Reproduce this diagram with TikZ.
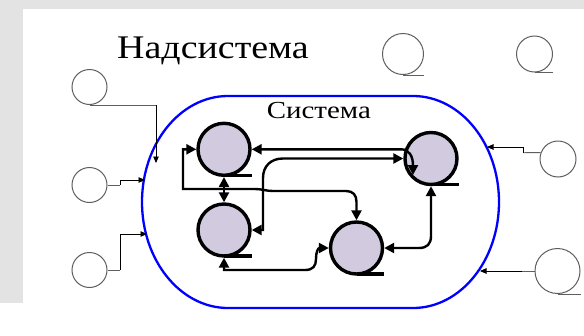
\documentclass[tikz,border=0pt]{standalone}
\usepackage{fontspec}
\usepackage{graphicx}
\setmainfont{Liberation Serif}
\usetikzlibrary{arrows.meta}
\definecolor{bggray}{RGB}{227,227,227}
\definecolor{lav}{RGB}{210,202,222}
\definecolor{outgray}{RGB}{95,95,95}
\begin{document}
\begin{tikzpicture}[x=1pt,y=-1pt,
  incirc/.style={circle,draw=black,line width=3.4pt,fill=lav,minimum size=52pt,inner sep=0pt},
  outcirc/.style={circle,draw=outgray,line width=1pt,minimum size=#1,inner sep=0pt},
  intail/.style={line width=3.4pt},
  outtail/.style={draw=outgray,line width=1pt},
  link/.style={line width=2.4pt,{Triangle[length=10pt,width=10pt]}-{Triangle[length=10pt,width=10pt]}},
  feed/.style={line width=0.9pt,-{Triangle[length=6.5pt,width=5.5pt]}},
  feedgray/.style={draw=outgray,line width=0.9pt},
  lbl/.style={anchor=base west,inner sep=0pt}
]
\useasboundingbox (0,0) rectangle (584,335);
\fill[bggray] (0,0) rectangle (584,335);
\fill[white] (23,9) rectangle (584,335);
\fill[white] (0,303) rectangle (584,335);

% system boundary
\draw[blue, line width=2.3pt] (228,96) -- (413,96)
  arc[start angle=-90,end angle=90,x radius=86,y radius=106] -- (228,308)
  arc[start angle=90,end angle=270,x radius=86,y radius=106] -- cycle;

% labels
\node[lbl,font=\fontsize{33}{33}\selectfont] (supsys) at (117,58.5) {\scalebox{1.15}[1]{Надсистема}};
\node[lbl,font=\fontsize{24.5}{24.5}\selectfont] (sys) at (266.7,118) {\scalebox{1.18}[1]{Система}};

% outer elements
\node[outcirc=35pt] (o1) at (89.5,87) {};
\node[outcirc=35pt] (o2) at (89.5,185) {};
\node[outcirc=35pt] (o3) at (89.5,270) {};
\node[outcirc=41pt] (o4) at (403,54) {};
\node[outcirc=36pt] (o5) at (534.5,54) {};
\node[outcirc=36pt] (o6) at (558,159) {};
\node[outcirc=45pt] (o7) at (557.5,271) {};
\draw[outtail] (o4.south) -- ++(21,0);
\draw[outtail] (o5.south) -- ++(18.5,0);
\draw[outtail] (o7.south) -- ++(23,0);

\coordinate (k1) at (156,105); \coordinate (e1) at (156,163);
\coordinate (k2) at (120,185); \coordinate (e2) at (145,180);
\coordinate (k3) at (120,270); \coordinate (e3) at (147,234);
\coordinate (k6) at (523,152.7); \coordinate (e6) at (487,147);
\coordinate (k7) at (522,271); \coordinate (e7) at (480,271);
\draw[feedgray] (o1.south) -- (k1);
\draw[feed] (k1) -- (e1);
\draw[feedgray] (o2.east) -- (k2);
\draw[feed] (k2) -- (120,180) -- (e2);
\draw[feedgray] (o3.east) -- (k3);
\draw[feed] (k3) -- (120,234) -- (e3);
\draw[feedgray] (o6.160) -- (k6);
\draw[feed] (k6) -- (523,147) -- (e6);
\draw[feedgray] (o7.west) -- (k7);
\draw[feed] (k7) -- (e7);

% inner elements
\node[incirc] (c1) at (224,149.3) {};
\node[incirc] (c2) at (224,230) {};
\node[incirc] (c3) at (431,158.5) {};
\node[incirc] (c4) at (356.5,248) {};
\draw[intail] (c1.south) ++(0,-1.7) -- ++(27.6,0);
\draw[intail] (c2.south) ++(0,-1.7) -- ++(27.6,0);
\draw[intail] (c3.south) ++(0,-1.7) -- ++(27.6,0);
\draw[intail] (c4.south) ++(0,-1.7) -- ++(27.6,0);

% inner links
\draw[link] (c1.west) -- (183,149.3) -- (183,189) -- (255,189)
  .. controls (262,189) and (266,191) .. (273,191) -- (346,191)
  .. controls (353,191) and (356.5,195) .. (356.5,202) -- (c4.north);
\draw[link] (c1.south) -- (c2.north);
\draw[link] (c1.east) -- (401,149.3) .. controls (409,149.3) and (413,156) .. (413,175);
\draw[link] (c2.east) -- (263,230) -- (263,178)
  .. controls (263,166) and (271,158.5) .. (283,158.5) -- (c3.west);
\draw[link] (c4.east) -- (419,248) .. controls (427,248) and (431,244) .. (431,236) -- (c3.south);
\draw[link] (c2.south) -- (224,270) -- (305,270)
  .. controls (313,270) and (316,266) .. (316,259)
  .. controls (316,252) and (318,248) .. (c4.west);
\end{tikzpicture}
\end{document}
